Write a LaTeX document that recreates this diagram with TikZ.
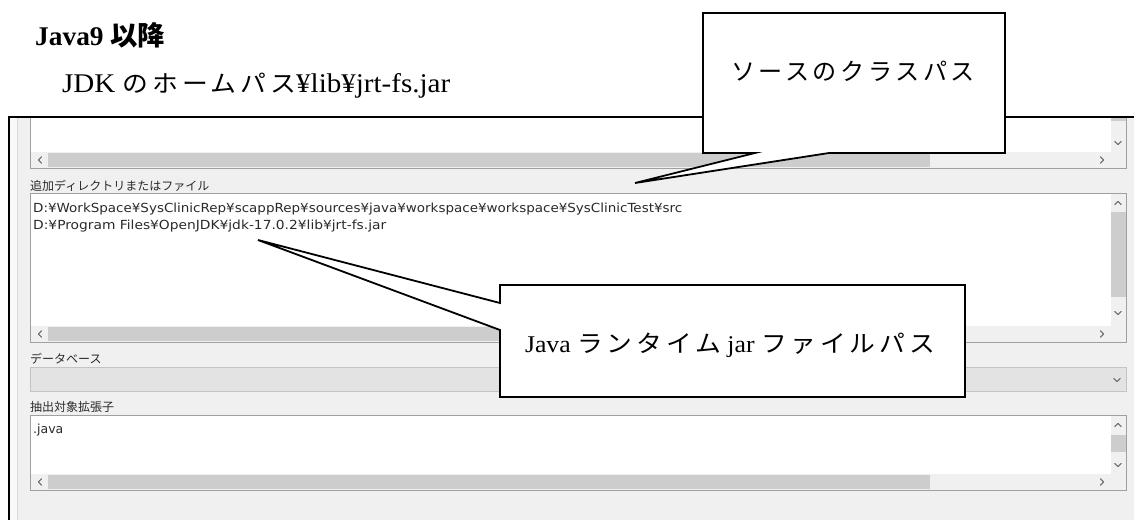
\documentclass[tikz,border=0pt]{standalone}
\usepackage{fontspec}
\usepackage{graphicx}
\setmainfont{Liberation Serif}
\newfontfamily\jp{Noto Sans CJK JP}
\newfontfamily\jpw[LetterSpace=15]{Noto Sans CJK JP}
\newfontfamily\ui{DejaVu Sans}
\usetikzlibrary{calc}
\definecolor{uibg}{HTML}{F0F0F0}
\definecolor{boxgray}{HTML}{A0A0A0}
\definecolor{thumbgray}{HTML}{CDCDCD}
\definecolor{combofill}{HTML}{E3E3E3}
\definecolor{comboline}{HTML}{C4C4C4}
\definecolor{glyphc}{HTML}{6A6A6A}
\definecolor{uitext}{HTML}{2A2A2A}
\newcommand{\fitw}[2]{\resizebox{#1}{\height}{#2}}
\tikzset{
  titletext/.style={anchor=base west, inner sep=0pt, font=\fontsize{27}{30}\selectfont\bfseries},
  subtext/.style={anchor=base west, inner sep=0pt, font=\fontsize{27}{30}\selectfont},
  uilabel/.style={anchor=base west, inner sep=0pt, text=uitext, font=\jp\fontsize{12}{14}\selectfont},
  uipath/.style={anchor=base west, inner sep=0pt, text=uitext, font=\ui\fontsize{12.5}{14}\selectfont},
  ctext/.style={anchor=base, inner sep=0pt, font=\fontsize{24}{28}\selectfont},
  callout/.style={draw=black, fill=white, line width=1.8pt, line join=miter},
  tbox/.style={draw=boxgray, fill=white, line width=1pt},
  track/.style={fill=uibg},
  thumb/.style={fill=thumbgray},
  glyph/.style={draw=glyphc, line width=1.1pt, line cap=round, line join=round},
  chevl/.pic={\draw[glyph] (1.6,-3.2) -- (-1.6,0) -- (1.6,3.2);},
  chevr/.pic={\draw[glyph] (-1.6,-3.2) -- (1.6,0) -- (-1.6,3.2);},
  chevu/.pic={\draw[glyph] (-3.2,1.6) -- (0,-1.6) -- (3.2,1.6);},
  chevd/.pic={\draw[glyph] (-3.2,-1.6) -- (0,1.6) -- (3.2,-1.6);},
}
\begin{document}
\begin{tikzpicture}[x=1pt,y=-1pt]
\useasboundingbox (0,0) rectangle (1134,520);
\fill[white] (0,0) rectangle (1134,520);
% window area
\fill[uibg] (9,117) rectangle (1134,520);
\fill[white!60!uibg] (10,117) rectangle (17,520);
\draw[line width=1pt, color=black!15] (17.5,117) -- (17.5,520);

% ---- box 1 (partially visible)
\draw[tbox] (30,117) rectangle (1126,168.5);
\fill[track] (30.5,152) rectangle (1125.5,168);
\fill[thumb] (48,153) rectangle (930,167);
\pic at (40,160) {chevl};
\pic at (1102,160) {chevr};
\fill[track] (1111,117) rectangle (1125.5,152);
\fill[thumb] (1111,117) rectangle (1125.5,121);
\pic at (1118,143) {chevd};

\node[uilabel] (lab1) at (30,190) {追加ディレクトリまたはファイル};

% ---- box 2
\draw[tbox] (30,193.5) rectangle (1126,342.5);
\fill[track] (30.5,326) rectangle (1125.5,342);
\fill[thumb] (48,327) rectangle (930,341);
\pic at (40,334) {chevl};
\pic at (1102,334) {chevr};
\fill[track] (1111,194) rectangle (1125.5,326);
\fill[thumb] (1111,212) rectangle (1125.5,297);
\pic at (1118,203) {chevu};
\pic at (1118,313) {chevd};
\node[uipath] (path1) at (33,212) {\fitw{649pt}{D:¥WorkSpace¥SysClinicRep¥scappRep¥sources¥java¥workspace¥workspace¥SysClinicTest¥src}};
\node[uipath] (path2) at (33,229) {\fitw{353pt}{D:¥Program Files¥OpenJDK¥jdk-17.0.2¥lib¥jrt-fs.jar}};

\node[uilabel] (lab2) at (30,363) {データベース};

% ---- combo box
\draw[fill=combofill, draw=comboline, line width=1pt] (30,367.5) rectangle (1126,391.5);
\pic at (1117,380) {chevd};

\node[uilabel] (lab3) at (30,411) {抽出対象拡張子};

% ---- box 3
\draw[tbox] (30,415.5) rectangle (1126,490.5);
\fill[track] (30.5,474) rectangle (1125.5,490);
\fill[thumb] (48,475) rectangle (930,489);
\pic at (40,482) {chevl};
\pic at (1102,482) {chevr};
\fill[track] (1111,416) rectangle (1125.5,474);
\fill[thumb] (1111,435) rectangle (1125.5,452);
\pic at (1118,425) {chevu};
\pic at (1118,465) {chevd};
\node[uipath] (ext) at (33,433) {.java};

% window frame
\draw[line width=2pt] (8.5,520) -- (8.5,116.5) -- (1134,116.5);

% headings
\node[titletext] (title) at (35,45) {\fitw{130pt}{Java9 {\jp\bfseries 以降}}};
\node[subtext] (sub) at (62,92) {\fitw{388pt}{JDK {\jpw\fontsize{24}{28}\selectfont のホームパス}¥lib¥jrt-fs.jar}};

% ---- callout 1
\coordinate (c1nw) at (703,13);
\coordinate (c1se) at (1005,153);
\coordinate (c1b1) at (755,153);
\coordinate (c1b2) at (829,153);
\coordinate (tip1) at (635,183);
\draw[callout] (c1nw) -- (c1nw -| c1se) -- (c1se) -- (c1b2) -- (tip1) -- (c1b1) -- (c1nw |- c1se) -- cycle;
\node[ctext] (c1) at (853,80) {\fitw{244pt}{\jpw ソースのクラスパス}};

% ---- callout 2
\coordinate (c2nw) at (500,285);
\coordinate (c2se) at (965,397);
\coordinate (c2b1) at (500,303);
\coordinate (c2b2) at (500,330);
\coordinate (tip2) at (258,240);
\draw[callout] (c2nw) -- (c2nw -| c2se) -- (c2se) -- (c2nw |- c2se) -- (c2b2) -- (tip2) -- (c2b1) -- cycle;
\node[ctext] (c2) at (730,352) {\fitw{410pt}{Java {\jpw ランタイム} jar {\jpw ファイルパス}}};
\end{tikzpicture}
\end{document}
